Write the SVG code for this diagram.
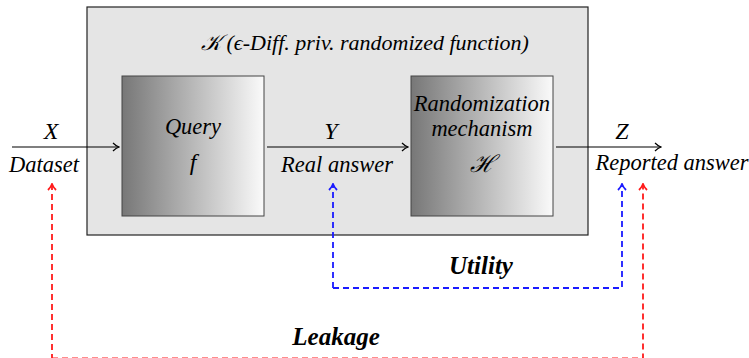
<svg xmlns="http://www.w3.org/2000/svg" width="749" height="358" viewBox="0 0 749 358">
<style>
text{font-family:"Liberation Serif","Times New Roman",serif;font-style:italic;fill:#000}
.lbl{font-size:22.5px}
.var{font-size:24px}
.big{font-size:22px}
.bold{font-weight:bold;font-size:25px}
.arr{stroke:#000;stroke-width:1.2;fill:none}
.blue{stroke:#1a1aff;stroke-width:1.8;fill:none;stroke-dasharray:6,4}
.red{stroke:#ff1a1a;stroke-width:1.8;fill:none;stroke-dasharray:6,4}
</style>
<defs>
<linearGradient id="g" x1="0" y1="0" x2="1" y2="0">
<stop offset="0" stop-color="#777"/>
<stop offset="1" stop-color="#fafafa"/>
</linearGradient>
<marker id="ah" viewBox="0 0 10 10" refX="9" refY="5" markerWidth="10" markerHeight="10" markerUnits="userSpaceOnUse" orient="auto">
<path d="M3,1 Q6,4 9,5 Q6,6 3,9" fill="none" stroke="#000" stroke-width="1.2"/>
</marker>
<marker id="ahb" viewBox="0 0 10 10" refX="9" refY="5" markerWidth="10" markerHeight="10" markerUnits="userSpaceOnUse" orient="auto">
<path d="M3,1 Q6,4 9,5 Q6,6 3,9" fill="none" stroke="#1a1aff" stroke-width="1.8"/>
</marker>
<marker id="ahr" viewBox="0 0 10 10" refX="9" refY="5" markerWidth="10" markerHeight="10" markerUnits="userSpaceOnUse" orient="auto">
<path d="M3,1 Q6,4 9,5 Q6,6 3,9" fill="none" stroke="#ff1a1a" stroke-width="1.8"/>
</marker>
</defs>
<g id="K">
<rect x="87" y="7" width="501" height="228" fill="#e5e5e5" stroke="#222" stroke-width="1.2"/>
<text x="201" y="50" class="big">𝒦 (ϵ-Diff. priv. randomized function)</text>
</g>
<g id="query">
<rect x="122" y="76" width="142" height="140" fill="url(#g)" stroke="#444" stroke-width="1"/>
<text x="193" y="134" class="lbl" text-anchor="middle">Query</text>
<text x="193" y="170" class="var" text-anchor="middle">f</text>
</g>
<g id="mech">
<rect x="411" y="76" width="142" height="140" fill="url(#g)" stroke="#444" stroke-width="1"/>
<text x="482" y="111" class="lbl" text-anchor="middle">Randomization</text>
<text x="482" y="136" class="lbl" text-anchor="middle">mechanism</text>
<text x="482" y="172" class="var" text-anchor="middle" font-style="normal">ℋ</text>
</g>
<g id="connectors">
<line x1="12" y1="147" x2="119" y2="147" class="arr" marker-end="url(#ah)"/>
<line x1="267" y1="147" x2="408" y2="147" class="arr" marker-end="url(#ah)"/>
<line x1="556" y1="147" x2="661" y2="147" class="arr" marker-end="url(#ah)"/>
<polyline points="333,288 333,184" class="blue" marker-end="url(#ahb)"/>
<polyline points="333,288 622,288 622,184" class="blue" marker-end="url(#ahb)"/>
<polyline points="52,360 52,184" class="red" marker-end="url(#ahr)"/>
<polyline points="52,358.5 643,358.5 643,184" class="red" marker-end="url(#ahr)"/>
</g>
<g id="labels">
<text x="51" y="139" class="var" text-anchor="middle">X</text>
<text x="44" y="172" class="lbl" text-anchor="middle">Dataset</text>
<text x="331" y="139" class="var" text-anchor="middle">Y</text>
<text x="337" y="172" class="lbl" text-anchor="middle">Real answer</text>
<text x="622" y="139" class="var" text-anchor="middle">Z</text>
<text x="672" y="170" class="lbl" text-anchor="middle">Reported answer</text>
<text x="481" y="274" class="bold" text-anchor="middle">Utility</text>
<text x="336" y="345" class="bold" text-anchor="middle">Leakage</text>
</g>
</svg>
